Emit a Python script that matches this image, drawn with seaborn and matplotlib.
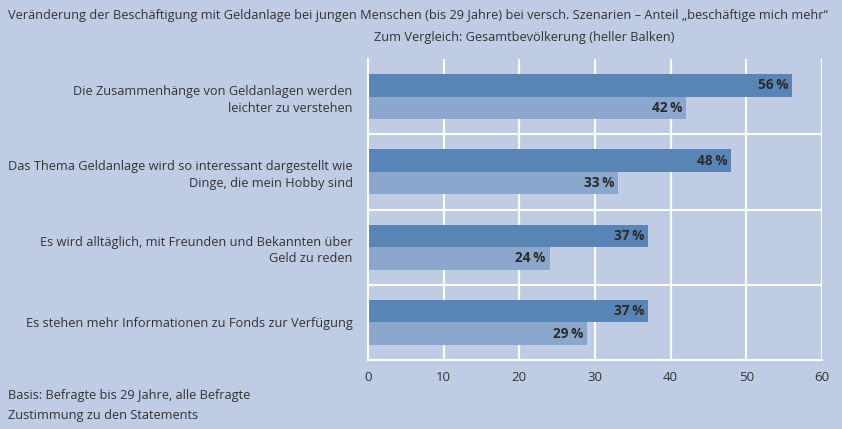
import matplotlib
matplotlib.use('Agg')
import matplotlib.pyplot as plt
import seaborn as sns
import pandas as pd

# Daten
statements = [
    'Die Zusammenhänge von Geldanlagen werden\nleichter zu verstehen',
    'Das Thema Geldanlage wird so interessant dargestellt wie\nDinge, die mein Hobby sind',
    'Es wird alltäglich, mit Freunden und Bekannten über\nGeld zu reden',
    'Es stehen mehr Informationen zu Fonds zur Verfügung',
]
junge = [56, 48, 37, 37]
gesamt = [42, 33, 24, 29]
gruppen = ['bis 29 Jahre', 'Gesamtbevölkerung']
x_ticks = [0, 10, 20, 30, 40, 50, 60]

title1 = ('Veränderung der Beschäftigung mit Geldanlage bei jungen Menschen (bis 29 Jahre) '
          'bei versch. Szenarien – Anteil „beschäftige mich mehr“')
title2 = 'Zum Vergleich: Gesamtbevölkerung (heller Balken)'
foot1 = 'Basis: Befragte bis 29 Jahre, alle Befragte'
foot2 = 'Zustimmung zu den Statements'

BG = '#bfcce3'
DARK = '#5884b6'
LIGHT = '#8ba7ce'
TXT = '#333333'
FS = 9.2

df = pd.DataFrame({
    'statement': statements * 2,
    'wert': junge + gesamt,
    'gruppe': [gruppen[0]] * 4 + [gruppen[1]] * 4,
})

sns.set_style('white')
plt.rcParams['font.family'] = ['Open Sans', 'DejaVu Sans']

W, H = 842, 429
fig = plt.figure(figsize=(W / 100, H / 100), dpi=100, facecolor=BG)
ax = fig.add_axes([368 / W, 1 - 360 / H, (822 - 368) / W, (360 - 59) / H])
ax.set_facecolor(BG)

sns.barplot(data=df, y='statement', x='wert', hue='gruppe', orient='h',
            palette=[DARK, LIGHT], width=0.6, saturation=1, legend=False,
            errorbar=None, linewidth=0, ax=ax)

for p in ax.patches:
    w = p.get_width()
    if w <= 0:
        continue
    ax.text(w - 0.5, p.get_y() + p.get_height() / 2, f'{w:.0f}\u2009%',
            ha='right', va='center', fontsize=9.8, fontweight='bold', color='#2a2a2a')

ax.set_xlim(0, 60)
ax.set_ylim(3.5, -0.5)
ax.set_xticks(x_ticks)
ax.set_xlabel('')
ax.set_ylabel('')
ax.grid(axis='x', color='white', linewidth=1.5)
ax.set_axisbelow(True)
for y in [0.5, 1.5, 2.5]:
    ax.axhline(y, color='white', linewidth=1.5, zorder=0.5)
for s in ['top', 'right']:
    ax.spines[s].set_visible(False)
for s in ['left', 'bottom']:
    ax.spines[s].set_color('white')
    ax.spines[s].set_linewidth(1.5)
ax.tick_params(axis='x', length=0, pad=8, labelsize=FS + 0.3, labelcolor=TXT)
ax.tick_params(axis='y', length=0, pad=11, labelsize=FS, labelcolor=TXT)
for lbl in ax.get_yticklabels():
    lbl.set_multialignment('right')
    lbl.set_linespacing(1.35)

fig.text(8 / W, 1 - 16 / H, title1, ha='left', va='center', fontsize=FS, color=TXT)
fig.text(374 / W, 1 - 38 / H, title2, ha='left', va='center', fontsize=FS, color=TXT)
fig.text(8 / W, 1 - 396 / H, foot1, ha='left', va='center', fontsize=FS, color=TXT)
fig.text(8 / W, 1 - 415 / H, foot2, ha='left', va='center', fontsize=FS, color=TXT)

fig.savefig('out.png', dpi=100, facecolor=BG)
